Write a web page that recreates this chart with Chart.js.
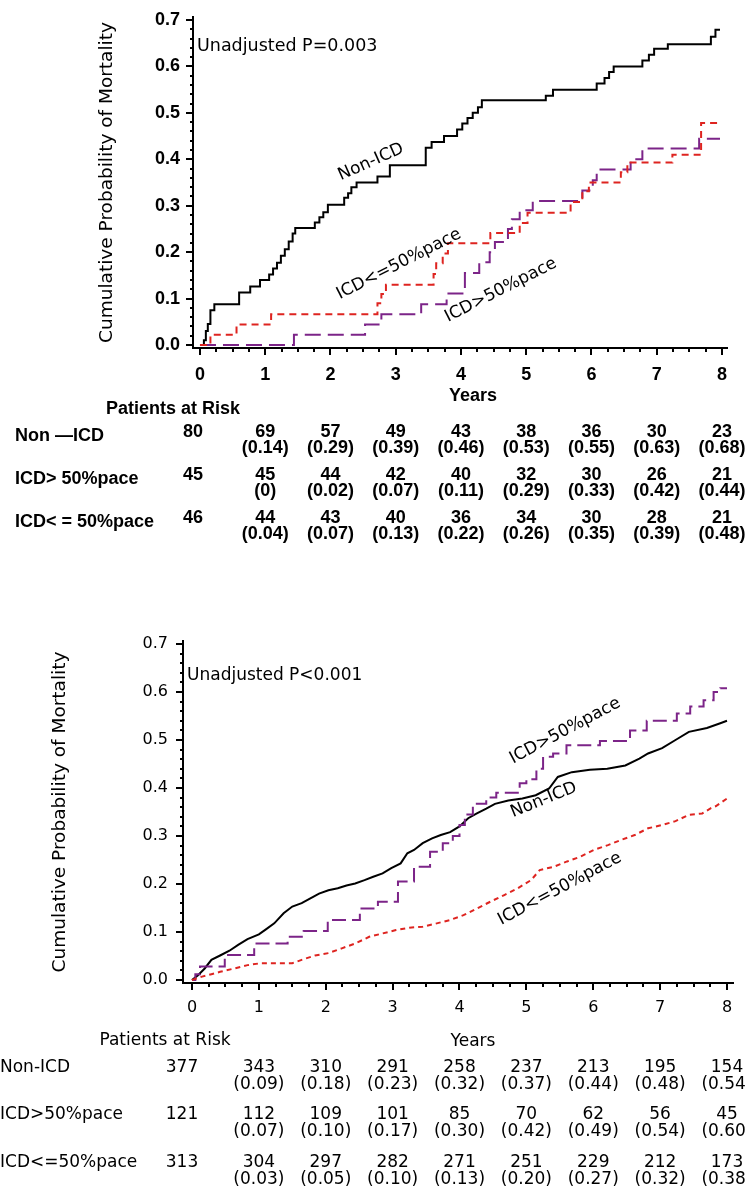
<!DOCTYPE html>
<html>
<head>
<meta charset="utf-8">
<script src="https://cdn.jsdelivr.net/npm/chart.js@4.4.1/dist/chart.umd.min.js"></script>
<style>
  html, body { margin: 0; padding: 0; background: #fff; }
  #wrap { position: relative; width: 746px; height: 1194px; overflow: hidden; }
  canvas { position: absolute; left: 0; }
  #topChart { top: 0; }
  #bottomChart { top: 600px; }
</style>
</head>
<body>
<div id="wrap">
  <canvas id="topChart" width="746" height="600"></canvas>
  <canvas id="bottomChart" width="746" height="594"></canvas>
</div>
<script>
// axis ticks
const years = [0, 1, 2, 3, 4, 5, 6, 7, 8];
const probTicks = [0, 0.1, 0.2, 0.3, 0.4, 0.5, 0.6, 0.7];

// group names as printed in each at-risk table
const groupsTop = ['Non \u2014ICD', 'ICD> 50%pace', 'ICD< = 50%pace'];
const groupsBottom = ['Non-ICD', 'ICD>50%pace', 'ICD<=50%pace'];

// top panel curves: [years, cumulative probability]
const topNonIcd = [[0,0],[0.06,0.01],[0.09,0.03],[0.12,0.045],[0.16,0.075],[0.22,0.088],[0.6,0.113],[0.77,0.126],[0.92,0.14],[1.06,0.152],[1.12,0.165],[1.18,0.177],[1.24,0.192],[1.3,0.206],[1.36,0.223],[1.42,0.24],[1.46,0.252],[1.76,0.264],[1.83,0.275],[1.89,0.286],[1.96,0.302],[2.21,0.317],[2.27,0.327],[2.32,0.34],[2.4,0.35],[2.72,0.363],[2.91,0.387],[3.46,0.425],[3.55,0.437],[3.74,0.45],[3.94,0.464],[4.02,0.477],[4.1,0.489],[4.18,0.5],[4.26,0.512],[4.32,0.527],[5.3,0.537],[5.41,0.55],[6.08,0.563],[6.2,0.575],[6.27,0.588],[6.34,0.6],[6.78,0.613],[6.88,0.625],[6.96,0.638],[7.17,0.648],[7.83,0.664],[7.9,0.679],[7.97,0.679]];
const topIcdHigh = [[0,0],[1.44,0.022],[2.53,0.044],[2.78,0.066],[3.39,0.088],[3.78,0.111],[4.06,0.155],[4.28,0.178],[4.44,0.2],[4.52,0.222],[4.72,0.25],[4.78,0.271],[4.9,0.29],[5.1,0.31],[5.86,0.333],[6.02,0.355],[6.08,0.378],[6.6,0.4],[6.78,0.423],[7.65,0.444],[7.97,0.444]];
const topIcdLow = [[0,0],[0.16,0.022],[0.56,0.044],[1.09,0.066],[2.72,0.09],[2.78,0.11],[2.85,0.13],[3.58,0.153],[3.62,0.176],[3.72,0.197],[3.8,0.219],[4.45,0.241],[4.9,0.263],[5.02,0.285],[5.68,0.308],[5.86,0.331],[5.96,0.35],[6.45,0.372],[6.55,0.393],[7.24,0.41],[7.68,0.478],[7.97,0.478]];

// bottom panel curves
const bottomNonIcd = [[0,0],[0.09,0.01],[0.19,0.024],[0.29,0.042],[0.42,0.051],[0.56,0.061],[0.69,0.073],[0.83,0.085],[1.0,0.095],[1.1,0.105],[1.23,0.118],[1.37,0.139],[1.5,0.153],[1.64,0.16],[1.77,0.17],[1.9,0.18],[2.04,0.187],[2.18,0.191],[2.31,0.197],[2.44,0.201],[2.58,0.208],[2.71,0.215],[2.85,0.222],[2.98,0.233],[3.12,0.243],[3.22,0.264],[3.32,0.271],[3.45,0.285],[3.59,0.295],[3.72,0.302],[3.86,0.308],[4.0,0.32],[4.13,0.337],[4.26,0.347],[4.4,0.357],[4.53,0.367],[4.73,0.374],[4.94,0.378],[5.14,0.385],[5.34,0.399],[5.47,0.423],[5.68,0.433],[5.95,0.438],[6.21,0.44],[6.48,0.447],[6.69,0.461],[6.82,0.472],[7.03,0.483],[7.23,0.5],[7.43,0.517],[7.7,0.525],[7.9,0.535],[8.0,0.54]];
const bottomIcdHigh = [[0,0],[0.05,0.012],[0.12,0.028],[0.49,0.052],[0.93,0.076],[1.43,0.09],[1.67,0.102],[2.03,0.125],[2.51,0.149],[2.78,0.163],[3.08,0.205],[3.32,0.236],[3.56,0.267],[3.75,0.285],[3.9,0.3],[4.0,0.323],[4.08,0.345],[4.2,0.367],[4.4,0.38],[4.55,0.39],[4.9,0.41],[5.0,0.418],[5.15,0.44],[5.25,0.465],[5.4,0.472],[5.6,0.489],[6.1,0.498],[6.55,0.52],[6.8,0.54],[7.25,0.555],[7.45,0.57],[7.65,0.583],[7.8,0.6],[7.9,0.608],[8.0,0.608]];
const bottomIcdLow = [[0,0],[0.15,0.007],[0.29,0.012],[0.42,0.017],[0.63,0.024],[0.83,0.031],[1.03,0.035],[1.5,0.035],[1.64,0.042],[1.84,0.051],[2.04,0.056],[2.24,0.066],[2.44,0.076],[2.65,0.09],[2.85,0.097],[3.05,0.104],[3.25,0.109],[3.45,0.111],[3.66,0.118],[3.86,0.125],[4.06,0.135],[4.26,0.149],[4.46,0.163],[4.67,0.177],[4.87,0.191],[5.07,0.208],[5.2,0.229],[5.41,0.236],[5.61,0.247],[5.81,0.257],[6.01,0.271],[6.22,0.281],[6.42,0.292],[6.62,0.302],[6.82,0.316],[7.03,0.323],[7.23,0.331],[7.43,0.344],[7.63,0.347],[7.76,0.358],[7.83,0.362],[8.0,0.378]];

// patients at risk (year 0..8) and cumulative probability in brackets
const topRiskNonIcd = [80, 69, 57, 49, 43, 38, 36, 30, 23];
const topRiskHigh = [45, 45, 44, 42, 40, 32, 30, 26, 21];
const topRiskLow = [46, 44, 43, 40, 36, 34, 30, 28, 21];
const topCumNonIcd = ['', '0.14', '0.29', '0.39', '0.46', '0.53', '0.55', '0.63', '0.68'];
const topCumHigh = ['', '0', '0.02', '0.07', '0.11', '0.29', '0.33', '0.42', '0.44'];
const topCumLow = ['', '0.04', '0.07', '0.13', '0.22', '0.26', '0.35', '0.39', '0.48'];

const bottomRiskNonIcd = [377, 343, 310, 291, 258, 237, 213, 195, 154];
const bottomRiskHigh = [121, 112, 109, 101, 85, 70, 62, 56, 45];
const bottomRiskLow = [313, 304, 297, 282, 271, 251, 229, 212, 173];
const bottomCumNonIcd = ['', '0.09', '0.18', '0.23', '0.32', '0.37', '0.44', '0.48', '0.54'];
const bottomCumHigh = ['', '0.07', '0.10', '0.17', '0.30', '0.42', '0.49', '0.54', '0.60'];
const bottomCumLow = ['', '0.03', '0.05', '0.10', '0.13', '0.20', '0.27', '0.32', '0.38'];

const BLACK = '#000000';
const RED = '#de2420';
const PURPLE = '#7c2488';

function line(points, color, dash, stepped) {
    return {
        data: points.map(([x, y]) => ({ x, y })),
        borderColor: color,
        borderWidth: 2,
        borderDash: dash,
        stepped: stepped,
        pointRadius: 0,
        fill: false
    };
}

// draws minor ticks, notes, curve labels, axis titles and the at-risk table
function panelPlugin(p) {
    return {
        id: 'panelExtras',
        afterDraw(chart) {
            const ctx = chart.ctx;
            const xs = chart.scales.x;
            const ys = chart.scales.y;
            const area = chart.chartArea;
            ctx.save();

            // minor ticks
            ctx.strokeStyle = BLACK;
            ctx.lineWidth = 2;
            const lastYear = years[years.length - 1];
            for (let i = 1; i < lastYear * 4; i++) {
                if (i % 4 === 0) continue;
                const px = Math.round(xs.getPixelForValue(i / 4));
                ctx.beginPath();
                ctx.moveTo(px, area.bottom);
                ctx.lineTo(px, area.bottom + p.minorLen);
                ctx.stroke();
            }
            const lastProb = probTicks[probTicks.length - 1];
            for (let i = 1; i < Math.round(lastProb * 50); i++) {
                if (i % 5 === 0) continue;
                const py = Math.round(ys.getPixelForValue(i / 50));
                ctx.beginPath();
                ctx.moveTo(area.left - p.minorLen + 1, py);
                ctx.lineTo(area.left, py);
                ctx.stroke();
            }

            ctx.fillStyle = BLACK;

            // p-value note
            ctx.font = p.noteFont;
            ctx.textAlign = 'left';
            ctx.textBaseline = 'middle';
            ctx.fillText(p.note, area.left + 4, ys.getPixelForValue(p.noteAt));

            // curve labels
            ctx.font = p.curveFont;
            ctx.textAlign = 'center';
            p.curveLabels.forEach(l => {
                ctx.save();
                ctx.translate(xs.getPixelForValue(l.x), ys.getPixelForValue(l.y));
                ctx.rotate(l.angle * Math.PI / 180);
                ctx.fillText(l.text, 0, 0);
                ctx.restore();
            });

            // y-axis title
            ctx.save();
            ctx.font = p.yTitleFont;
            ctx.translate(p.yTitleX, (area.top + area.bottom) / 2);
            ctx.rotate(-Math.PI / 2);
            ctx.fillText('Cumulative Probability of Mortality', 0, 0);
            ctx.restore();

            // x-axis title
            ctx.font = p.xTitleFont;
            ctx.fillText('Years', p.xTitleX, p.xTitleY);

            // at-risk table
            ctx.font = p.tableFont;
            ctx.fillText('Patients at Risk', p.headerX, p.headerY);
            p.rows.forEach((row, r) => {
                const y = p.rowY[r];
                ctx.textAlign = 'left';
                ctx.fillText(row.name, p.rowLabelX, y);
                ctx.textAlign = 'center';
                row.risk.forEach((n, j) => {
                    const x = j === 0 ? xs.getPixelForValue(years[0]) + p.firstColDx : xs.getPixelForValue(years[j]);
                    ctx.fillText(String(n), x, y + p.countDy);
                    if (row.cum[j] !== '') {
                        ctx.fillText('(' + row.cum[j] + ')', x, y + p.cumDy);
                    }
                });
            });
            ctx.restore();
        }
    };
}

function buildPanel(canvasId, p) {
    const ctx = document.getElementById(canvasId).getContext('2d');
    return new Chart(ctx, {
        type: 'line',
        data: { datasets: p.datasets },
        options: {
            responsive: false,
            animation: false,
            events: [],
            layout: { padding: { top: p.areaTop, right: p.areaRight, left: 0, bottom: 0 } },
            plugins: { legend: { display: false }, tooltip: { enabled: false } },
            scales: {
                x: {
                    type: 'linear',
                    min: p.xMin,
                    max: p.xMax,
                    afterBuildTicks: s => { s.ticks = years.map(v => ({ value: v })); },
                    afterFit: s => { s.height = p.xAxisHeight; },
                    border: { display: true, color: BLACK, width: 2 },
                    grid: { drawOnChartArea: false, drawTicks: true, tickLength: 7, color: BLACK, lineWidth: 2 },
                    ticks: { autoSkip: false, maxRotation: 0, color: BLACK, font: p.tickFont, padding: p.xTickPad,
                             callback: v => String(v) }
                },
                y: {
                    type: 'linear',
                    min: p.yMin,
                    max: p.yMax,
                    afterBuildTicks: s => { s.ticks = probTicks.map(v => ({ value: v })); },
                    afterFit: s => { s.width = p.yAxisWidth; },
                    border: { display: true, color: BLACK, width: 2 },
                    grid: { drawOnChartArea: false, drawTicks: true, tickLength: 7, color: BLACK, lineWidth: 2 },
                    ticks: { autoSkip: false, color: BLACK, font: p.tickFont, padding: p.yTickPad,
                             callback: v => v.toFixed(1) }
                }
            }
        },
        plugins: [panelPlugin(p)]
    });
}

buildPanel('topChart', {
    datasets: [
        line(topIcdLow, RED, [7, 5], true),
        line(topIcdHigh, PURPLE, [16, 7], true),
        line(topNonIcd, BLACK, [], true)
    ],
    areaTop: 17, areaRight: 19, xAxisHeight: 252, yAxisWidth: 193,
    xMin: -0.107, xMax: 8.077, yMin: -0.0065, yMax: 0.7065,
    tickFont: { family: 'Liberation Sans', weight: 'bold', size: 18 },
    xTickPad: 9, yTickPad: 6, minorLen: 4,
    note: 'Unadjusted P=0.003', noteAt: 0.642, noteFont: '17.5px "DejaVu Sans"',
    curveFont: '17px "DejaVu Sans"',
    curveLabels: [
        { text: 'Non-ICD', x: 2.62, y: 0.394, angle: -24 },
        { text: 'ICD<=50%pace', x: 3.05, y: 0.174, angle: -27 },
        { text: 'ICD>50%pace', x: 4.61, y: 0.118, angle: -27 }
    ],
    yTitleFont: '18.5px "DejaVu Sans"', yTitleX: 107,
    xTitleFont: 'bold 18px "Liberation Sans"', xTitleX: 473, xTitleY: 396,
    tableFont: 'bold 18px "Liberation Sans"',
    headerX: 173, headerY: 409,
    rows: [
        { name: groupsTop[0], risk: topRiskNonIcd, cum: topCumNonIcd },
        { name: groupsTop[1], risk: topRiskHigh, cum: topCumHigh },
        { name: groupsTop[2], risk: topRiskLow, cum: topCumLow }
    ],
    rowY: [436, 479, 522], rowLabelX: 15, firstColDx: -7, countDy: -4, cumDy: 12
});

buildPanel('bottomChart', {
    datasets: [
        line(bottomIcdLow, RED, [5, 4], false),
        line(bottomIcdHigh, PURPLE, [14, 6], true),
        line(bottomNonIcd, BLACK, [], false)
    ],
    areaTop: 41, areaRight: 13, xAxisHeight: 211, yAxisWidth: 183,
    xMin: -0.1346, xMax: 8.09, yMin: -0.00625, yMax: 0.70625,
    tickFont: { family: 'DejaVu Sans', size: 16 },
    xTickPad: 8, yTickPad: 8, minorLen: 4,
    note: 'Unadjusted P<0.001', noteAt: 0.635, noteFont: '17px "DejaVu Sans"',
    curveFont: '17px "DejaVu Sans"',
    curveLabels: [
        { text: 'ICD>50%pace', x: 5.58, y: 0.519, angle: -28 },
        { text: 'Non-ICD', x: 5.26, y: 0.375, angle: -22 },
        { text: 'ICD<=50%pace', x: 5.5, y: 0.19, angle: -28 }
    ],
    yTitleFont: '18.5px "DejaVu Sans"', yTitleX: 60,
    xTitleFont: '17px "DejaVu Sans"', xTitleX: 473, xTitleY: 442,
    tableFont: '17px "DejaVu Sans"',
    headerX: 165, headerY: 441,
    rows: [
        { name: groupsBottom[0], risk: bottomRiskNonIcd, cum: bottomCumNonIcd },
        { name: groupsBottom[1], risk: bottomRiskHigh, cum: bottomCumHigh },
        { name: groupsBottom[2], risk: bottomRiskLow, cum: bottomCumLow }
    ],
    rowY: [468, 515, 563], rowLabelX: 0, firstColDx: -10, countDy: 0, cumDy: 17
});
</script>
</body>
</html>
